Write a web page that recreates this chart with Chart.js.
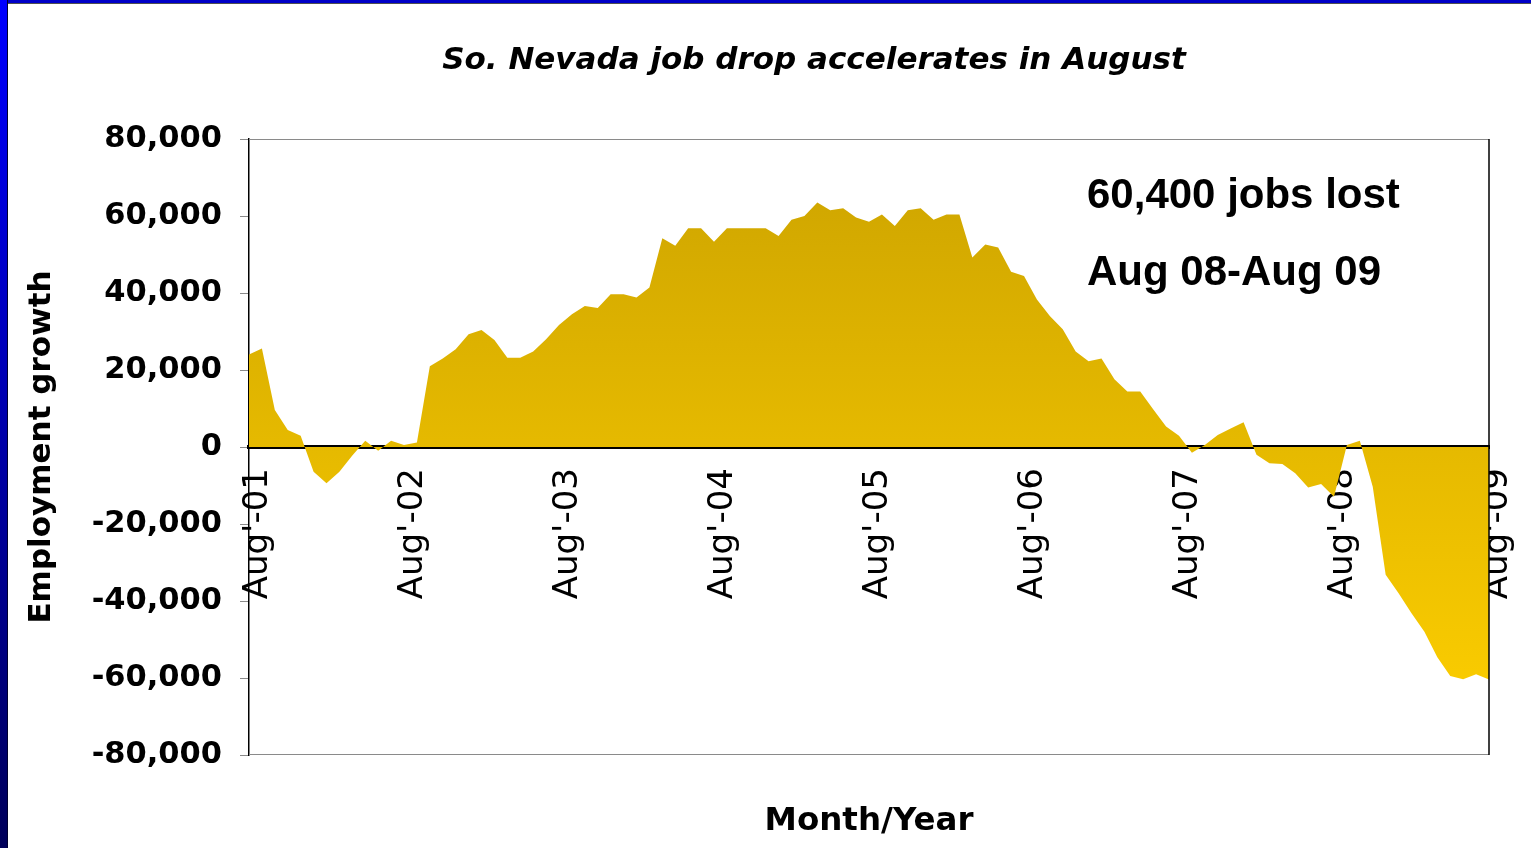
<!DOCTYPE html>
<html><head><meta charset="utf-8">
<script src="https://cdn.jsdelivr.net/npm/chart.js@4"></script>
<style>
html,body{margin:0;padding:0;background:#fff;overflow:hidden}
#wrap{position:relative;width:1531px;height:848px}
canvas{position:absolute;left:0;top:0}
#lb{position:absolute;left:0;top:0;width:7px;height:848px;background:linear-gradient(#0000ff,#00005a);border-right:1px solid #000030}
#tb{position:absolute;left:0;top:0;width:1531px;height:3px;background:#0000c8;border-bottom:1px solid #505050}
</style></head>
<body><div id="wrap"><canvas id="c" width="1531" height="848"></canvas><div id="tb"></div><div id="lb"></div></div>
<script>
const categories = [
 "Aug-01","Sep-01","Oct-01","Nov-01","Dec-01","Jan-02","Feb-02","Mar-02","Apr-02","May-02","Jun-02","Jul-02",
 "Aug-02","Sep-02","Oct-02","Nov-02","Dec-02","Jan-03","Feb-03","Mar-03","Apr-03","May-03","Jun-03","Jul-03",
 "Aug-03","Sep-03","Oct-03","Nov-03","Dec-03","Jan-04","Feb-04","Mar-04","Apr-04","May-04","Jun-04","Jul-04",
 "Aug-04","Sep-04","Oct-04","Nov-04","Dec-04","Jan-05","Feb-05","Mar-05","Apr-05","May-05","Jun-05","Jul-05",
 "Aug-05","Sep-05","Oct-05","Nov-05","Dec-05","Jan-06","Feb-06","Mar-06","Apr-06","May-06","Jun-06","Jul-06",
 "Aug-06","Sep-06","Oct-06","Nov-06","Dec-06","Jan-07","Feb-07","Mar-07","Apr-07","May-07","Jun-07","Jul-07",
 "Aug-07","Sep-07","Oct-07","Nov-07","Dec-07","Jan-08","Feb-08","Mar-08","Apr-08","May-08","Jun-08","Jul-08",
 "Aug-08","Sep-08","Oct-08","Nov-08","Dec-08","Jan-09","Feb-09","Mar-09","Apr-09","May-09","Jun-09","Jul-09",
 "Aug-09"
];
const tickLabels = ["Aug'-01","Aug'-02","Aug'-03","Aug'-04","Aug'-05","Aug'-06","Aug'-07","Aug'-08","Aug'-09"];
const employmentGrowth = [
 24000, 25600, 9600, 4400, 2900, -6400, -9400, -6400, -2200, 1600, -1000, 1600,
 500, 1200, 21000, 23000, 25400, 29300, 30400, 27800, 23200, 23200, 24800, 28000,
 31700, 34500, 36600, 36100, 39700, 39700, 38800, 41400, 54200, 52300, 56800, 56800,
 53300, 56800, 56800, 56800, 56800, 54800, 59000, 60000, 63500, 61500, 62000, 59600,
 58500, 60400, 57400, 61500, 62000, 59000, 60400, 60400, 49200, 52600, 51800, 45500,
 44400, 38300, 34000, 30600, 24800, 22300, 23000, 17600, 14400, 14400, 9800, 5300,
 2900, -1500, 500, 3100, 4800, 6400, -2000, -4200, -4400, -6800, -10500, -9600,
 -12900, 500, 1600, -10300, -33200, -38000, -43200, -48000, -54600, -59500, -60300, -59000,
 -60400
];
const chartTitle = "So. Nevada job drop accelerates in August";
const noteLines = ["60,400 jobs lost", "Aug 08-Aug 09"];

function tickLabelFor(i) {
  const n = categories.slice(0, i + 1).filter(c => c.startsWith('Aug')).length - 1;
  return categories[i].startsWith('Aug') ? tickLabels[n] : '';
}

const framePlugin = {
  id: 'frame',
  afterDraw(chart) {
    const {ctx, chartArea: a} = chart;
    ctx.save();
    ctx.lineWidth = 1;
    ctx.strokeStyle = '#8a8a8a';
    ctx.beginPath();
    ctx.moveTo(a.left, a.top + 0.5); ctx.lineTo(a.right, a.top + 0.5);
    ctx.moveTo(a.left, a.bottom - 0.5); ctx.lineTo(a.right, a.bottom - 0.5);
    ctx.stroke();
    ctx.strokeStyle = '#000';
    ctx.lineWidth = 1.5;
    ctx.beginPath();
    ctx.moveTo(a.right, a.top); ctx.lineTo(a.right, a.bottom);
    ctx.stroke();
    // title
    ctx.fillStyle = '#000';
    ctx.textAlign = 'center';
    ctx.textBaseline = 'middle';
    ctx.font = 'italic bold 31px "DejaVu Sans"';
    ctx.fillText(chartTitle, 814, 61);
    // annotation
    ctx.textAlign = 'left';
    ctx.textBaseline = 'alphabetic';
    ctx.font = 'bold 42px "Liberation Sans"';
    ctx.fillText(noteLines[0], a.right - 402, a.top + 69);
    ctx.fillText(noteLines[1], a.right - 402, a.top + 146);
    ctx.restore();
  }
};

new Chart(document.getElementById('c'), {
  type: 'line',
  data: {
    labels: categories,
    datasets: [{
      data: employmentGrowth,
      fill: 'origin',
      borderWidth: 0,
      pointRadius: 0,
      tension: 0,
      backgroundColor: (ctx) => {
        const {chart} = ctx;
        const a = chart.chartArea;
        if (!a) return '#e6b800';
        const g = chart.ctx.createLinearGradient(0, a.top, 0, a.bottom);
        g.addColorStop(0, '#cca300');
        g.addColorStop(1, '#ffd000');
        return g;
      }
    }]
  },
  options: {
    responsive: false,
    animation: false,
    devicePixelRatio: 1,
    layout: {padding: {left: 8, right: 42, top: 139, bottom: 0}},
    plugins: {
      legend: {display: false},
      tooltip: {enabled: false},
      title: {display: false},
      subtitle: {
        display: true, position: 'bottom', fullSize: false,
        text: 'Month/Year', color: '#000',
        font: {family: 'DejaVu Sans', weight: 'bold', size: 32.5},
        padding: {top: 47.5, bottom: 6.5}
      }
    },
    scales: {
      x: {
        type: 'category',
        offset: false,
        position: {y: 0},
        z: 1,
        grid: {display: false, drawTicks: false},
        border: {display: true, color: '#000', width: 4},
        ticks: {
          autoSkip: false, minRotation: 90, maxRotation: 90, padding: 21, labelOffset: 9,
          color: '#000', font: {family: 'DejaVu Sans', size: 34},
          callback: (v, i) => tickLabelFor(i)
        },
        afterFit: s => { s.paddingLeft = 0; s.paddingRight = 0; }
      },
      y: {
        min: -80000, max: 80000,
        z: 1,
        ticks: {
          stepSize: 20000, padding: 18, color: '#000',
          font: {family: 'DejaVu Sans', weight: 'bold', size: 30.5},
          callback: v => v.toLocaleString('en-US')
        },
        grid: {drawOnChartArea: false, drawTicks: true, tickLength: 9, color: '#8a8a8a'},
        border: {color: '#000', width: 1.5},
        title: {
          display: true, text: 'Employment growth', color: '#000',
          font: {family: 'DejaVu Sans', weight: 'bold', size: 31},
          padding: {top: 15, bottom: 0}
        },
        afterFit: s => { s.width = 241; }
      }
    }
  },
  plugins: [framePlugin]
});
</script>
</body></html>
